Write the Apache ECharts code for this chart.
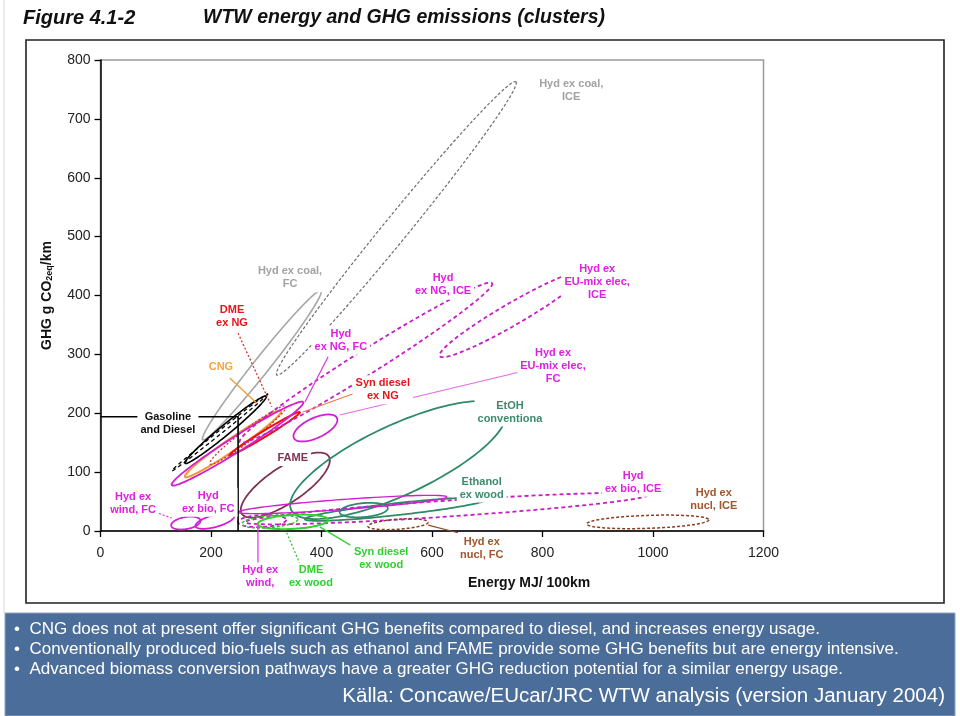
<!DOCTYPE html>
<html><head><meta charset="utf-8">
<script src="https://cdn.jsdelivr.net/npm/echarts/dist/echarts.min.js"></script>
<style>html,body{margin:0;padding:0;background:#fff}#c{width:960px;height:716px}</style>
</head><body><div id="c"></div>
<script>
// ---------- data ----------
const xTicks = [0, 200, 400, 600, 800, 1000, 1200];
const yTicks = [0, 100, 200, 300, 400, 500, 600, 700, 800];

// cluster ellipses: major-axis end points (MJ/100km, g CO2eq/km) and half width (g CO2eq/km)
const clusterNames = [
  'Hyd ex coal, ICE', 'Hyd ex coal, FC', 'Gasoline and Diesel', 'Gasoline and Diesel (range)',
  'CNG', 'DME ex NG', 'Syn diesel ex NG', 'Hyd ex NG, FC', 'Hyd ex NG, ICE',
  'Hyd ex EU-mix elec, ICE', 'Hyd ex EU-mix elec, FC', 'FAME', 'EtOH conventional',
  'Ethanol ex wood', 'Ethanol ex wood (b)', 'Hyd ex bio, ICE', 'Hyd ex wind, ICE',
  'Hyd ex wind, ICE (b)', 'Hyd ex wind, FC', 'Hyd ex bio, FC', 'Syn diesel ex wood',
  'DME ex wood', 'Hyd ex nucl, FC', 'Hyd ex nucl, ICE'
];
const clusterFrom = [
  [319, 265], [185, 155], [153, 115], [129, 102],
  [153, 92], [198, 114], [234, 129], [129, 78], [252, 151],
  [614, 297], [350, 158], [256, 29], [345, 36],
  [370, 20], [433, 32], [262, 15], [249, 32],
  [249, 15], [128, 9], [172, 8], [285, 12],
  [256, 12], [484, 8], [880, 12]
];
const clusterTo = [
  [752, 763], [399, 408], [300, 229], [303, 233],
  [327, 204], [336, 212], [361, 202], [367, 219], [709, 421],
  [877, 440], [428, 192], [413, 127], [732, 205],
  [700, 54], [520, 39], [991, 61], [627, 58],
  [336, 19], [181, 18], [242, 26], [412, 19],
  [357, 20], [593, 15], [1101, 19]
];
const clusterSpread = [
  21, 13.6, 8.5, 3,
  10.2, 10.2, 5, 12.7, 20.4,
  18.7, 17, 30.6, 59.4,
  10.2, 11.9, 13.6, 8.5,
  10.2, 10.2, 10.2, 11.9,
  10.2, 8.5, 11
];
const clusterStyle = [
  'coalICE', 'coalFC', 'gas', 'gasDash',
  'cng', 'dmeNG', 'synNG', 'magSolid', 'magDash',
  'magDash', 'magSolid', 'fame', 'teal',
  'teal', 'teal', 'magDash', 'magThin',
  'magDash', 'magSolid', 'magSolid', 'green',
  'greenDash', 'brownDash', 'brownDash'
];

// leader lines from labels to clusters
const leaderFrom = [[249, 336], [234, 260], [466, 236], [412, 296], [759, 270], [99, 32], [285, -56], [337, -3], [397, 7], [593, 10]];
const leaderTo   = [[310, 211], [283, 217], [366, 202], [370, 219], [433, 197], [129, 22], [285, 10], [361, -56], [452, -24], [647, -3]];
const leaderStyle = ['dmeNG', 'cngLeader', 'synLeader', 'magLeader', 'pinkLeader', 'magDot', 'magLeader', 'greenDot', 'greenLeader', 'brownLeader'];

// gasoline & diesel reference point (cross-hair)
const refPoint = [249, 194];

// cluster labels (anchor centre in data units)
const labelText = [
  'Hyd ex coal,\nICE', 'Hyd ex coal,\nFC', 'DME\nex NG', 'CNG', 'Gasoline\nand Diesel', 'FAME',
  'Hyd\nex NG, FC', 'Hyd\nex NG, ICE', 'Hyd ex\nEU-mix elec,\nICE', 'Hyd ex\nEU-mix elec,\nFC',
  'Syn diesel\nex NG', 'EtOH\nconventiona', 'Ethanol\nex wood', 'Hyd\nex bio, ICE', 'Hyd ex\nnucl, ICE',
  'Hyd ex\nwind, FC', 'Hyd\nex bio, FC', 'Hyd ex\nwind,', 'DME\nex wood', 'Syn diesel\nex wood', 'Hyd ex\nnucl, FC'
];
const labelAt = [
  [852, 749], [343, 430], [238, 365], [218, 279], [122, 183], [348, 124],
  [435, 324], [620, 418], [899, 423], [819, 280],
  [511, 240], [741, 202], [690, 73], [964, 83], [1110, 53],
  [59, 46], [195, 49], [289, -78], [381, -78], [508, -46], [690, -29]
];
const labelStyle = [
  'grayLbl', 'grayLbl', 'red', 'cngLbl', 'black', 'fame',
  'mag', 'mag', 'mag', 'mag',
  'red', 'tealLbl', 'tealLbl', 'mag', 'brownLbl',
  'mag', 'mag', 'mag', 'greenLbl', 'greenLbl', 'brownLbl'
];

// ---------- styles ----------
const S = {
  coalICE: {c: '#6e6e6e', w: 1.2, d: [3, 2]},
  coalFC: {c: '#a6a6a6', w: 1.6},
  gas: {c: '#000000', w: 1.6},
  gasDash: {c: '#000000', w: 1.3, d: [4, 3]},
  cng: {c: '#f29a2e', w: 2},
  dmeNG: {c: '#d2352f', w: 1.3, d: [2, 2]},
  synNG: {c: '#ee1010', w: 2},
  magSolid: {c: '#d21fd2', w: 1.8},
  magDash: {c: '#c41fc4', w: 1.8, d: [4, 3]},
  magThin: {c: '#d21fd2', w: 1.4},
  fame: {c: '#7d3352', w: 1.8},
  teal: {c: '#2f8a66', w: 1.8},
  green: {c: '#2fd22f', w: 2},
  greenDash: {c: '#2fc02f', w: 1.5, d: [3, 2]},
  brownDash: {c: '#8b3f1e', w: 1.5, d: [3, 2]},
  cngLeader: {c: '#f2a040', w: 1.5},
  synLeader: {c: '#f06a3a', w: 1},
  magLeader: {c: '#dd33dd', w: 1.2},
  pinkLeader: {c: '#e56be5', w: 1.2},
  magDot: {c: '#dd33dd', w: 1.2, d: [2, 2]},
  greenDot: {c: '#2fc02f', w: 1.2, d: [2, 2]},
  greenLeader: {c: '#2fd22f', w: 1.3},
  brownLeader: {c: '#8b4a2b', w: 1.2},
  grayLbl: {c: '#a2a2a2'}, red: {c: '#e8141c'}, cngLbl: {c: '#f3a444'}, black: {c: '#111'},
  mag: {c: '#e020e0'}, tealLbl: {c: '#3c8c6c'}, brownLbl: {c: '#a4532a'}, greenLbl: {c: '#2ed12e'}
};
const FONT = '"Liberation Sans", Arial, sans-serif';

const ellipseData = clusterNames.map((n, i) => ({
  name: n, value: [clusterFrom[i][0], clusterFrom[i][1], clusterTo[i][0], clusterTo[i][1], clusterSpread[i], i]
}));
const leaderData = leaderFrom.map((p, i) => [p[0], p[1], leaderTo[i][0], leaderTo[i][1], i]);
const labelData = labelText.map((t, i) => ({name: t, value: [labelAt[i][0], labelAt[i][1], i]}));

function renderEllipse(params, api) {
  const p1 = api.coord([api.value(0), api.value(1)]);
  const p2 = api.coord([api.value(2), api.value(3)]);
  const b = Math.abs(api.size([0, api.value(4)])[1]);
  const st = S[clusterStyle[api.value(5)]];
  const cx = (p1[0] + p2[0]) / 2, cy = (p1[1] + p2[1]) / 2;
  const dx = p2[0] - p1[0], dy = p2[1] - p1[1];
  const L = Math.hypot(dx, dy), a = L / 2;
  const ux = dx / L, uy = dy / L, nx = -uy, ny = ux;
  const pts = [];
  for (let k = 0; k <= 120; k++) {
    const t = k / 120 * Math.PI * 2;
    const ca = a * Math.cos(t), sb = b * Math.sin(t);
    pts.push([cx + ca * ux + sb * nx, cy + ca * uy + sb * ny]);
  }
  return {type: 'polyline', shape: {points: pts},
    style: {stroke: st.c, lineWidth: st.w, lineDash: st.d || null, fill: null}};
}
function renderLeader(params, api) {
  const p1 = api.coord([api.value(0), api.value(1)]);
  const p2 = api.coord([api.value(2), api.value(3)]);
  const st = S[leaderStyle[api.value(4)]];
  return {type: 'line', shape: {x1: p1[0], y1: p1[1], x2: p2[0], y2: p2[1]},
    style: {stroke: st.c, lineWidth: st.w, lineDash: st.d || null}};
}
function renderRef(params, api) {
  const a = api.coord([0, api.value(1)]);
  const m = api.coord([api.value(0), api.value(1)]);
  const z = api.coord([api.value(0), 0]);
  return {type: 'polyline', shape: {points: [a, m, z]}, style: {stroke: '#000', lineWidth: 1.6, fill: null}};
}
function renderLabel(params, api) {
  const p = api.coord([api.value(0), api.value(1)]);
  const i = api.value(2);
  const st = S[labelStyle[i]];
  return {type: 'text', x: p[0], y: p[1],
    style: {text: labelText[i], fill: st.c, font: 'bold 11px ' + FONT, align: 'center', verticalAlign: 'middle',
      lineHeight: 13, backgroundColor: '#fff', padding: [2, 3, 1, 3]}};
}

const chart = echarts.init(document.getElementById('c'), null, {renderer: 'canvas'});
chart.setOption({
  animation: false,
  backgroundColor: '#fff',
  grid: {left: 100.5, right: 196.5, top: 60, bottom: 185, show: true, borderColor: '#9a9a9a', borderWidth: 1.5, backgroundColor: 'transparent'},
  xAxis: {
    type: 'value', min: xTicks[0], max: xTicks[xTicks.length - 1], interval: xTicks[1] - xTicks[0],
    axisLine: {show: true, lineStyle: {color: '#000', width: 1.5}},
    axisTick: {show: true, inside: false, length: 6, lineStyle: {color: '#000', width: 1.3}},
    axisLabel: {color: '#222', fontSize: 14, fontFamily: FONT, margin: 15, formatter: v => String(v)},
    splitLine: {show: false}
  },
  yAxis: {
    type: 'value', min: yTicks[0], max: yTicks[yTicks.length - 1], interval: yTicks[1] - yTicks[0],
    axisLine: {show: true, lineStyle: {color: '#000', width: 1.5}},
    axisTick: {show: true, inside: false, length: 6, lineStyle: {color: '#000', width: 1.3}},
    axisLabel: {color: '#222', fontSize: 14, fontFamily: FONT, margin: 10, formatter: v => String(v)},
    splitLine: {show: false},
    name: '{b|GHG g CO}{s|2eq}{b|/km}', nameLocation: 'middle', nameRotate: 90, nameGap: 46,
    nameTextStyle: {rich: {
      b: {fontSize: 14, fontWeight: 'bold', fontFamily: FONT, color: '#111'},
      s: {fontSize: 9, fontWeight: 'bold', fontFamily: FONT, color: '#111', verticalAlign: 'bottom', padding: [6, 0, 0, 0]}
    }}
  },
  series: [
    {type: 'custom', name: 'clusters', renderItem: renderEllipse, data: ellipseData, clip: false,
      encode: {x: [0, 2], y: [1, 3]}, z: 2, silent: true},
    {type: 'custom', name: 'leaders', renderItem: renderLeader, data: leaderData, clip: false,
      encode: {x: [0, 2], y: [1, 3]}, z: 3, silent: true},
    {type: 'custom', name: 'Gasoline and Diesel reference', renderItem: renderRef, data: [refPoint], clip: false,
      encode: {x: 0, y: 1}, z: 3, silent: true},
    {type: 'custom', name: 'labels', renderItem: renderLabel, data: labelData, clip: false,
      encode: {x: 0, y: 1}, z: 6, silent: true}
  ],
  graphic: [
    {type: 'line', shape: {x1: 4, y1: 0, x2: 4, y2: 613}, style: {stroke: '#d8d8d8', lineWidth: 1}, z: 0},
    {type: 'text', left: 23, top: 8, style: {text: 'Figure 4.1-2', font: 'italic bold 20px "Liberation Sans Narrow", "Liberation Sans", Arial, sans-serif', fill: '#111'}},
    {type: 'text', left: 203, top: 8, style: {text: 'WTW energy and GHG emissions (clusters)', font: 'italic bold 19.5px "Liberation Sans Narrow", "Liberation Sans", Arial, sans-serif', fill: '#111'}},
    {type: 'rect', shape: {x: 26, y: 40, width: 918, height: 563}, style: {fill: null, stroke: '#222', lineWidth: 1.6}, z: 1},
    {type: 'text', left: 468, top: 576, style: {text: 'Energy MJ/ 100km', font: 'bold 14px ' + FONT, fill: '#111'}},
    {type: 'rect', shape: {x: 5, y: 613, width: 950, height: 103}, style: {fill: '#4b6d99', stroke: '#8ea5c2', lineWidth: 1}, z: 1},
    {type: 'text', left: 14, top: 621, z: 2, style: {text: '•  CNG does not at present offer significant GHG benefits compared to diesel, and increases energy usage.', font: '17px ' + FONT, fill: '#fff'}},
    {type: 'text', left: 14, top: 641, z: 2, style: {text: '•  Conventionally produced bio-fuels such as ethanol and FAME provide some GHG benefits but are energy intensive.', font: '17px ' + FONT, fill: '#fff'}},
    {type: 'text', left: 14, top: 661, z: 2, style: {text: '•  Advanced biomass conversion pathways have a greater GHG reduction potential for a similar energy usage.', font: '17px ' + FONT, fill: '#fff'}},
    {type: 'text', right: 15, top: 686, z: 2, style: {text: 'Källa: Concawe/EUcar/JRC WTW analysis (version January 2004)', font: '20.5px ' + FONT, fill: '#fff'}}
  ]
});
</script></body></html>
